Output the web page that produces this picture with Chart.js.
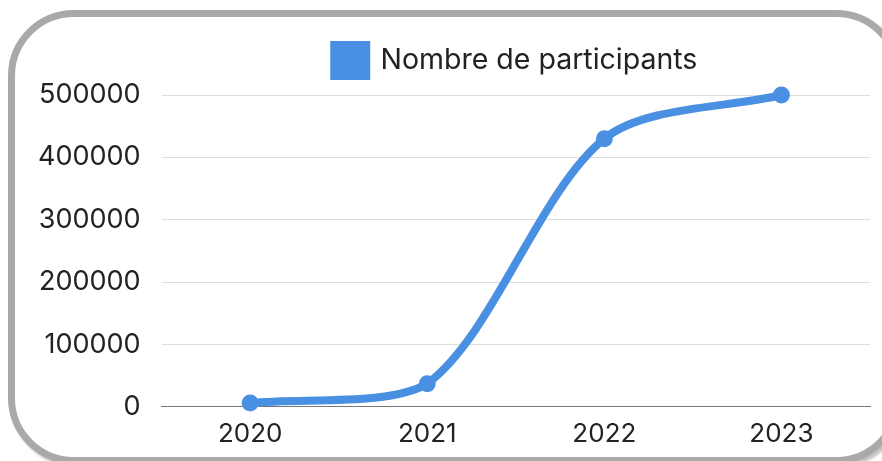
<!DOCTYPE html>
<html>
<head>
<meta charset="utf-8">
<script src="https://cdn.jsdelivr.net/npm/chart.js@4"></script>
<style>
  html, body { margin: 0; padding: 0; width: 882px; height: 461px; overflow: hidden; background: #fff; }
  .box {
    position: absolute; left: 8px; top: 10px;
    width: 880px; height: 440px;
    border: 7px solid #a9a9a9;
    border-radius: 66px;
    box-shadow: 3px 3px 3px rgba(0,0,0,0.25);
    background: #fff;
  }
  #wrap { position: absolute; left: 0; top: 0; width: 882px; height: 461px; }
</style>
</head>
<body>
<div class="box"></div>
<div id="wrap"><canvas id="c"></canvas></div>
<script>
const categories = ["2020", "2021", "2022", "2023"];
const seriesLabel = "Nombre de participants";
const participants = [6000, 37000, 430000, 500000];
const yTicks = [0, 100000, 200000, 300000, 400000, 500000];

const blue = "#4a90e2";
const fontFamily = "Inter, 'Open Sans', sans-serif";

const legendGap = {
  id: "legendGap",
  beforeInit(chart) {
    const origFit = chart.legend.fit;
    chart.legend.fit = function () {
      origFit.call(this);
      this.height += 9;
    };
  }
};

new Chart(document.getElementById("c"), {
  type: "line",
  data: {
    labels: categories,
    datasets: [{
      label: seriesLabel,
      data: participants,
      borderColor: blue,
      backgroundColor: blue,
      borderWidth: 8,
      pointRadius: 8.5,
      pointHoverRadius: 8.5,
      pointBackgroundColor: blue,
      pointBorderColor: blue,
      pointBorderWidth: 0,
      tension: 0.3,
      fill: false,
      clip: false
    }]
  },
  plugins: [legendGap],
  options: {
    responsive: true,
    maintainAspectRatio: false,
    animation: false,
    devicePixelRatio: 1,
    layout: { padding: { left: 17, right: 12, top: 18, bottom: 7 } },
    plugins: {
      legend: {
        display: true,
        fullSize: false,
        labels: {
          color: "#222",
          font: { family: fontFamily, size: 28.5 },
          boxWidth: 32,
          boxHeight: 31,
          padding: 27
        }
      },
      tooltip: { enabled: false }
    },
    scales: {
      x: {
        offset: true,
        grid: { display: false, drawTicks: true, tickLength: 8 },
        border: { display: true, color: "#777", width: 1 },
        ticks: { color: "#222", font: { family: fontFamily, size: 26 }, padding: 4, maxRotation: 0 }
      },
      y: {
        min: 0,
        max: 500000,
        afterBuildTicks: (axis) => { axis.ticks = yTicks.map(v => ({ value: v })); },
        grid: { color: "#dcdcdc", drawTicks: false, lineWidth: 1 },
        border: { display: false },
        ticks: {
          color: "#222",
          font: { family: fontFamily, size: 27 },
          padding: 21,
          callback: (v) => String(v)
        }
      }
    }
  }
});
</script>
</body>
</html>
